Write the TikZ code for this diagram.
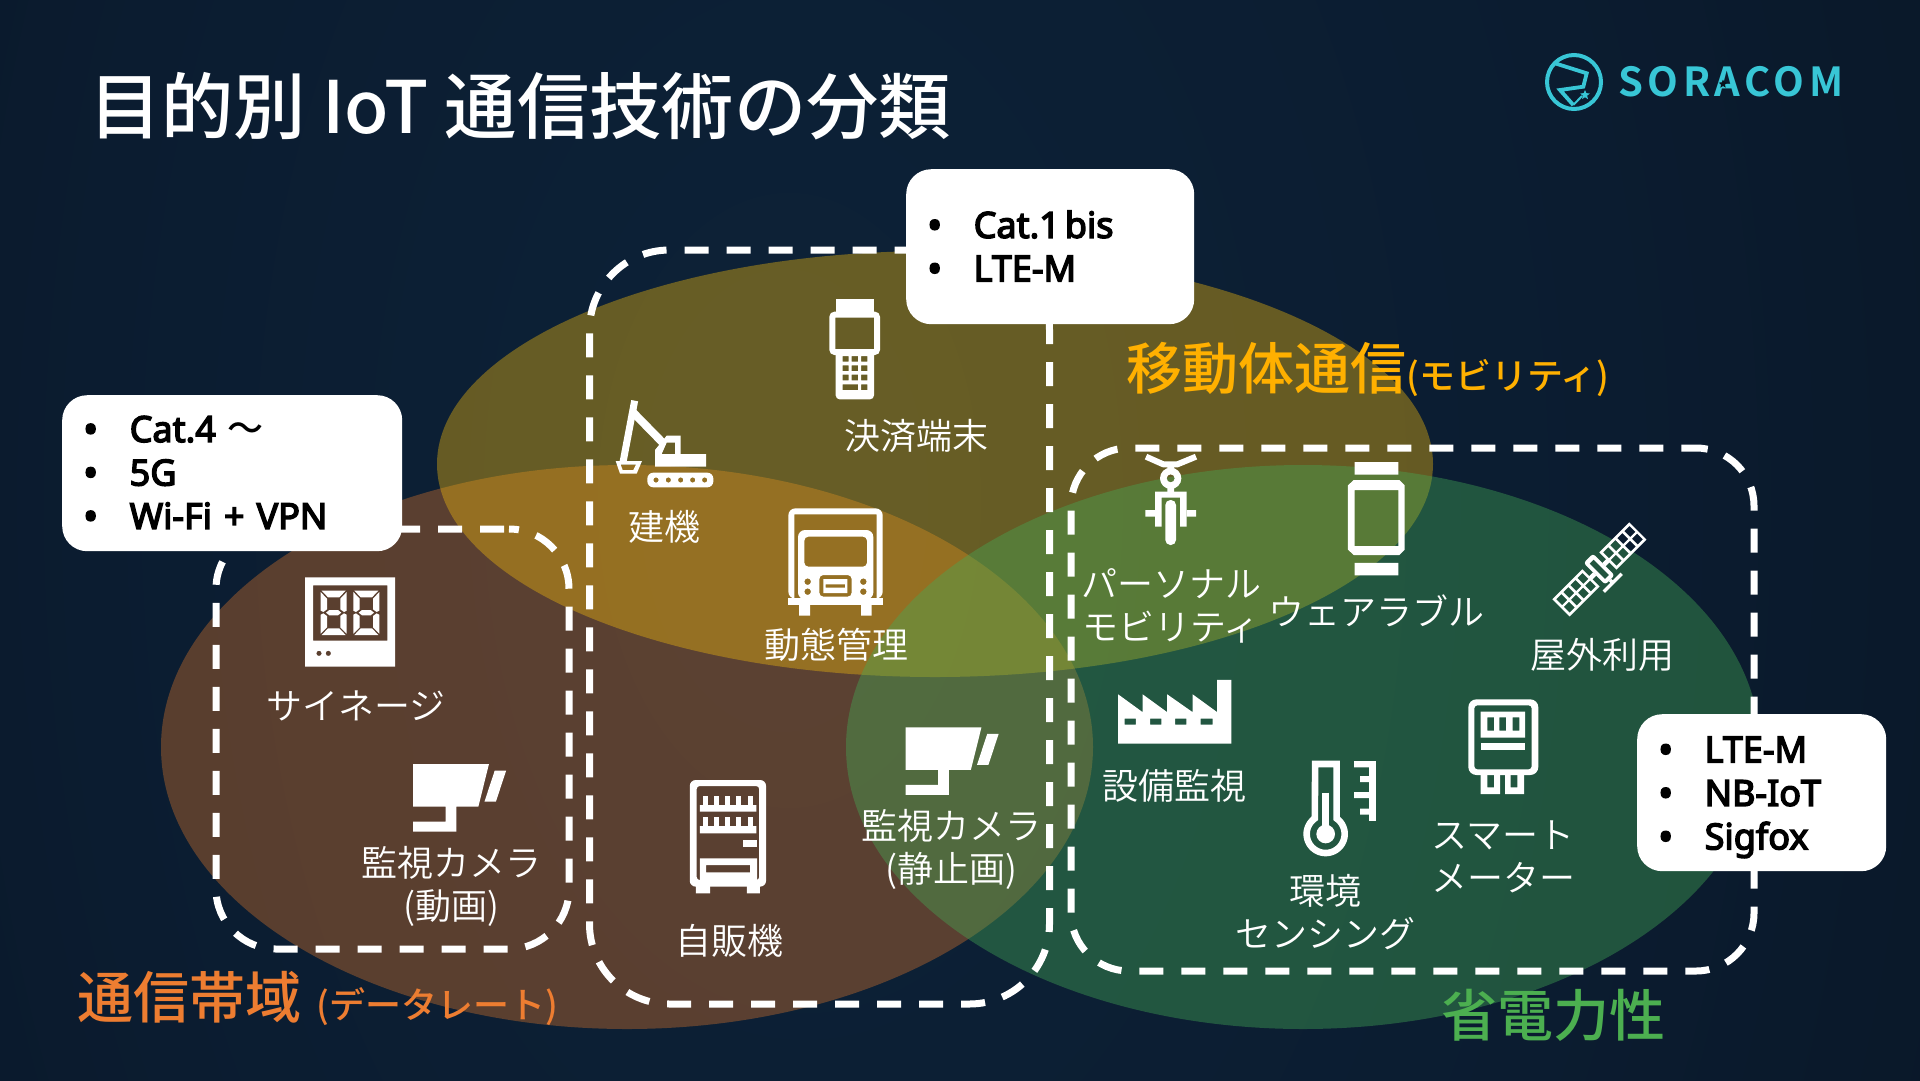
\documentclass[tikz,border=0pt]{standalone}
\usepackage{fontspec}
\setmainfont{Noto Sans CJK JP}
\newfontfamily\medfont{Noto Sans CJK JP Medium}
\newfontfamily\callf[FakeBold=4]{Noto Sans}
\newfontfamily\boldf{Noto Sans CJK JP Medium}
\newfontfamily\thinf{Noto Sans CJK JP DemiLight}
\newfontfamily\logof[LetterSpace=11.5]{Noto Sans CJK JP Bold}
\usetikzlibrary{shapes.geometric}
\definecolor{bgA}{HTML}{0D2238}
\definecolor{bgM}{HTML}{0B1C30}
\definecolor{bgB}{HTML}{07111C}
\definecolor{elY}{RGB}{238,183,13}
\definecolor{elO}{RGB}{208,113,43}
\definecolor{elG}{RGB}{68,170,85}
\definecolor{capY}{HTML}{FFB000}
\definecolor{capO}{HTML}{ED7D31}
\definecolor{capG}{HTML}{4CAF50}
\definecolor{logoc}{HTML}{38C6D6}
\pgfdeclareradialshading{bgshade}{\pgfpoint{-5bp}{0bp}}{color(0bp)=(bgA); color(20bp)=(bgM); color(46bp)=(bgB)}
\newcommand\blt{\makebox[46.5pt][l]{{\fontsize{40}{43.5}\selectfont\raisebox{-1.5pt}{•}}}}
\tikzset{
  dbox/.style={draw=white,line width=7pt,rectangle,inner sep=0pt},
  callout/.style={fill=white,rectangle,rounded corners=25pt,inner sep=0pt,text=black,align=left,anchor=north west,
     font=\callf\fontsize{36}{43.5}\selectfont},
  lbl/.style={text=white,align=center,inner sep=0pt,font=\thinf\fontsize{36}{43}\selectfont},
  zA/.style={shift={(560,150)},scale=1/3},
  zB/.style={shift={(1060,430)},xscale=1/2.24,yscale=1/2.8},
  zC/.style={shift={(200,540)},xscale=1/2.45,yscale=1/3},
  icon/.style={fill=white,even odd rule},
  iline/.style={draw=white,line cap=butt},
}
\begin{document}
\begin{tikzpicture}[x=1pt,y=-1pt]
\useasboundingbox (0,0) rectangle (1920,1080);
\shade[shading=bgshade] (0,-1040) rectangle (1920,2040);
% ellipses
\fill[elO,fill opacity=.4] (627,747) ellipse [x radius=466,y radius=282];
\fill[elY,fill opacity=.4] (935,464) ellipse [x radius=498,y radius=213];
\fill[elG,fill opacity=.4] (1303,747) ellipse [x radius=457,y radius=282];
% dashed groups
\node[dbox,dash pattern=on 24pt off 18pt,dash phase=37pt,rounded corners=60pt,minimum width=353pt,minimum height=420pt] (groupA) at (392.5,739) {};
\node[dbox,dash pattern=on 24pt off 18pt,dash phase=33pt,rounded corners=80pt,minimum width=460pt,minimum height=754pt] (groupB) at (819.5,627) {};
\node[dbox,dash pattern=on 24pt off 18pt,dash phase=9.4pt,rounded corners=58pt,minimum width=683pt,minimum height=523pt] (groupC) at (1412.5,709.5) {};
% title
\node[anchor=west,text=white,inner sep=0pt,font=\medfont\fontsize{72.3}{80}\selectfont] (title) at (89,106) {目的別 IoT 通信技術の分類};
% logo
\draw[logoc,line width=4pt] (1574,82) circle [radius=27];
\draw[logoc,line width=3.8pt,line join=miter] (1555,63.3) -- (1586.7,73.3) -- (1583.3,86.7) -- (1560,90) -- (1573.3,105);
\draw[logoc,line width=2pt] (1573.3,105) -- (1582,96);
\node[star,star points=5,star point ratio=2.2,fill=logoc,inner sep=0pt,minimum size=10pt] (logostar) at (1585,95) {};
\node[anchor=west,text=logoc,inner sep=0pt,font=\logof\fontsize{40}{44}\selectfont] (logotext) at (1618,82) {SORACOM};
\node[star,star points=5,star point ratio=2.2,fill=bgB,inner sep=0pt,minimum size=9pt] (logostarB) at (1723,84) {};
% category captions
\node[anchor=west,text=capY,inner sep=0pt,font=\boldf\fontsize{56}{60}\selectfont] (capMob) at (1126,369) {移動体通信{\fontsize{36}{40}\selectfont (モビリティ)}};
\node[anchor=west,text=capO,inner sep=0pt,font=\boldf\fontsize{56}{60}\selectfont] (capBand) at (77,998) {通信帯域\hspace{15pt}{\fontsize{36}{40}\selectfont(データレート)}};
\node[text=capG,inner sep=0pt,font=\boldf\fontsize{56}{60}\selectfont] (capPow) at (1553,1015) {省電力性};
% labels
\node[lbl] (l1) at (916,436) {決済端末};
\node[lbl] (l2) at (664,527) {建機};
\node[lbl] (l3) at (836,645) {動態管理};
\node[lbl] (l4) at (356,705.5) {サイネージ};
\node[lbl] (l5) at (451,886) {監視カメラ\\(動画)};
\node[lbl] (l6) at (729,941) {自販機};
\node[lbl] (l7) at (951,849) {監視カメラ\\(静止画)};
\node[lbl] (l8) at (1171,606) {パーソナル\\モビリティ};
\node[lbl] (l9) at (1376,611) {ウェアラブル};
\node[lbl] (l10) at (1602.5,655) {屋外利用};
\node[lbl] (l11) at (1174.5,786) {設備監視};
\node[lbl] (l12) at (1325,912) {環境\\センシング};
\node[lbl] (l13) at (1503,857) {スマート\\メーター};
% terminal
\begin{scope}[zA]
\fill[white] (827,447) rectangle (942,490);
\fill[icon] {[rounded corners=5pt] (808,485) rectangle (960,615)} (826,503) rectangle (942,597);
\fill[icon] {[rounded corners=4pt] (827,600) rectangle (942,748)}
  (848,618) rectangle (866,635) (875,618) rectangle (894,635) (903,618) rectangle (922,635)
  (848,646) rectangle (866,663) (875,646) rectangle (894,663) (903,646) rectangle (922,663)
  (848,674) rectangle (866,691) (875,674) rectangle (894,691) (903,674) rectangle (922,691)
  (848,703) rectangle (894,720) (903,703) rectangle (922,720);
% excavator
\draw[iline,line width=7pt] (189,937) -- (224,752);
\draw[iline,line width=8pt] (220,788) -- (312,882);
\fill[icon] (285,950) -- (285,900) -- (320,857) -- (362,857) -- (362,912) -- (438,912) -- (438,950) -- cycle
  (305,912) -- (320,878) -- (345,878) -- (345,912) -- cycle;
\fill[icon] (167,933) -- (246,933) -- (230,971) -- (180,971) -- cycle
  (182,944) -- (228,944) -- (220,960) -- (188,960) -- cycle;
\fill[icon] {[rounded corners=6pt] (262,968) rectangle (460,1012)}
  (288,990) circle [radius=8] (325,990) circle [radius=8] (362,990) circle [radius=8] (398,990) circle [radius=8] (434,990) circle [radius=8];
% truck
\fill[icon] {[rounded corners=7pt] (685,1075) rectangle (968,1346)} (703,1093) rectangle (950,1346);
\fill[white] (685,1345) rectangle (968,1366);
\fill[white] (717,1364) rectangle (750,1397) (903,1364) rectangle (935,1397);
\fill[icon] {[rounded corners=7pt] (714,1140) rectangle (940,1348)}
  {[rounded corners=4pt] (733,1160) rectangle (921,1250)}
  (743,1295) circle [radius=10] (743,1325) circle [radius=10] (910,1295) circle [radius=10] (910,1325) circle [radius=10]
  {[rounded corners=4pt] (778,1275) rectangle (875,1340)}
  (790,1287) rectangle (862,1329)
  (797,1303) rectangle (855,1313);
\end{scope}
% left column icons
\begin{scope}[shift={(290,570)},scale=1/3]
\fill[icon] (45,22) rectangle (315,290) (69,46) rectangle (292,212)
  (87,250) circle [radius=8] (115,250) circle [radius=8];
\foreach \dx in {92,190}{
\begin{scope}[shift={(\dx,62)}]
\fill[white] (3,0) -- (75,0) -- (56,20) -- (22,20) -- cycle;
\fill[white] (0,4) -- (19,24) -- (19,56) -- (8,64) -- (0,60) -- cycle;
\fill[white] (78,4) -- (59,24) -- (59,56) -- (70,64) -- (78,60) -- cycle;
\fill[white] (16,66) -- (26,58) -- (52,58) -- (62,66) -- (52,74) -- (26,74) -- cycle;
\fill[white] (0,72) -- (8,68) -- (19,76) -- (19,110) -- (0,129) -- cycle;
\fill[white] (78,72) -- (70,68) -- (59,76) -- (59,110) -- (78,129) -- cycle;
\fill[white] (3,133) -- (75,133) -- (56,113) -- (22,113) -- cycle;
\end{scope}}
\end{scope}
\begin{scope}[zC]
% camera 1
\fill[white] (522,672) -- (708,672) -- (682,800) -- (628,800) -- (628,875) -- (522,875) -- (522,845) -- (602,845) -- (602,800) -- (522,800) -- cycle;
\fill[white] (722,692) -- (750,692) -- (725,785) -- (697,785) -- cycle;
% vending
\fill[icon] {[rounded corners=6pt] (1200,720) rectangle (1387,1040)} {[rounded corners=3pt] (1217,738) rectangle (1370,1020)};
\fill[white] (1225,795) rectangle (1363,815) (1225,858) rectangle (1363,880);
\foreach \tx in {1232,1259,1286,1313,1342}{
 \fill[white] (\tx,768) rectangle ++(12,27);
 \fill[white] (\tx,832) rectangle ++(12,26);}
\fill[white] (1330,900) rectangle (1365,920);
\fill[icon] (1225,955) rectangle (1365,1021) (1240,975) rectangle (1348,997);
\fill[white] (1215,1038) rectangle (1250,1060) (1340,1038) rectangle (1372,1060);
\end{scope}
% camera 2
\begin{scope}[shift={(492.5,-36.7)},zC]
\fill[white] (522,672) -- (708,672) -- (682,800) -- (628,800) -- (628,875) -- (522,875) -- (522,845) -- (602,845) -- (602,800) -- (522,800) -- cycle;
\fill[white] (722,692) -- (750,692) -- (725,785) -- (697,785) -- cycle;
\end{scope}
% bike
\begin{scope}[shift={(1120,445)},scale=1/3]
\draw[iline,line width=6pt,line join=round] (78,35) -- (130,58) -- (172,58) -- (228,35);
\fill[white] (142,55) rectangle (162,75) (142,128) rectangle (162,142);
\fill[icon] (152,100) circle [radius=32] (152,100) circle [radius=12];
\fill[white] (105,140) -- (200,140) -- (200,245) -- (180,245) -- (180,158) -- (125,158) -- (125,245) -- (105,245) -- cycle;
\fill[white] (76,195) rectangle (105,215) (200,195) rectangle (228,215);
\fill[white,rounded corners=5pt] (136,165) rectangle (168,300);
\end{scope}
\begin{scope}[zB]
% watch
\fill[white] (660,90) rectangle (758,125) (660,372) rectangle (758,407);
\fill[icon] (658,140) -- (760,140) -- (772,155) -- (772,335) -- (760,350) -- (658,350) -- (645,335) -- (645,155) -- cycle
  (660,168) rectangle (758,325);
% factory
\fill[icon] (130,740) -- (185,790) -- (185,740) -- (240,790) -- (240,740) -- (297,790) -- (297,740) -- (352,790) -- (352,700) -- (384,700) -- (384,878) -- (130,878) -- cycle
  (145,808) rectangle (170,825) (202,808) rectangle (227,825) (258,808) rectangle (283,825) (315,808) rectangle (342,825);
\end{scope}
% satellite
\begin{scope}[shift={(1540,515)},scale=1/3,shift={(178,163)},rotate=45]
\foreach \ox in {36,-163}{
 \fill[icon] (\ox,-36) rectangle ++(127,73)
   \foreach \cx in {0,1,2,3}{ \foreach \cy in {0,1}{ (\ox+8+\cx*30,-28+\cy*32) rectangle ++(22,25) } };
}
\fill[icon] {[rounded corners=3pt] (-20,-47) rectangle (20,45)} (-9,-33) rectangle (9,33);
\fill[white] (-38,-7) rectangle (-20,7) (20,-7) rectangle (38,7);
\fill[white] (-5,45) rectangle (5,58) (-38,52) rectangle (38,62);
\end{scope}
% thermometer and meter
\begin{scope}[shift={(1290,690)},scale=1/3]
\draw[white,line width=6.6pt,line join=miter]
  (75.5,222) -- (139.7,222) -- plot[domain=55:-235,samples=60] ({107+57*cos(\x)},{432-57*sin(\x)}) -- cycle;
\draw[iline,line width=6.4pt] (107,308) -- (107,432);
\fill[white] (107,432) circle [radius=28];
\fill[white] (238,213) rectangle (258,393);
\fill[white] (192,213) rectangle (240,232) (210,258) rectangle (240,276) (192,306) rectangle (240,324) (210,356) rectangle (240,374);
\fill[icon] {[rounded corners=8pt] (535,28) rectangle (745,255)} {[rounded corners=3pt] (553,46) rectangle (725,238)};
\fill[icon] (572,65) rectangle (705,143) (592,82) rectangle (612,122) (628,82) rectangle (648,122) (668,82) rectangle (688,122);
\fill[white] (572,160) rectangle (705,180);
\fill[icon] (572,253) rectangle (630,312) (592,253) rectangle (612,292);
\fill[icon] (645,253) rectangle (702,312) (662,253) rectangle (682,292);
\end{scope}
% callouts
\node[callout,minimum width=288pt,minimum height=155pt,text width=246pt,inner xsep=21pt] (c1) at (906,169) {\blt Cat.1\hspace{5pt}bis\\\blt LTE-M};
\node[callout,minimum width=340pt,minimum height=156pt,text width=298pt,inner xsep=21pt] (c2) at (62,395) {\blt Cat.4 {\medfont 〜}\\\blt 5G\\\blt Wi-Fi + VPN};
\node[callout,minimum width=249pt,minimum height=157pt,text width=207pt,inner xsep=21pt] (c3) at (1637,714) {\rule{0pt}{35pt}\blt LTE-M\\\blt NB-IoT\\\blt Sigfox};
\end{tikzpicture}
\end{document}
